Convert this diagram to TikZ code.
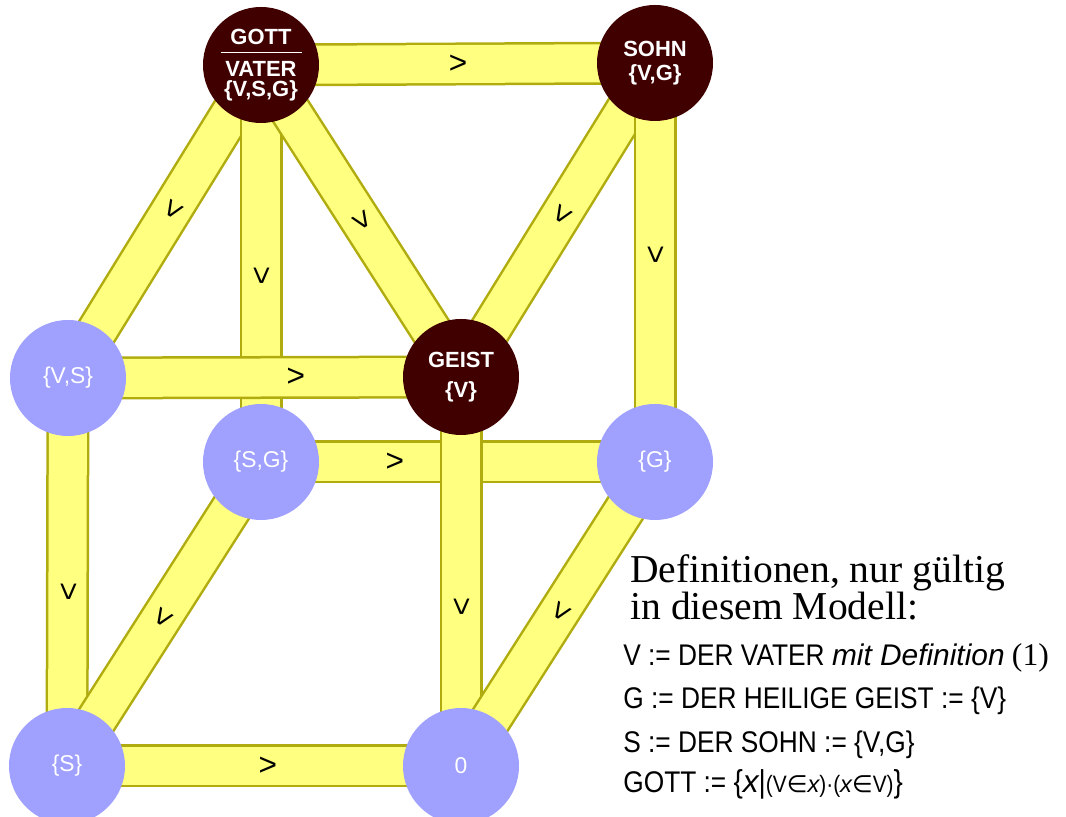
\documentclass[tikz,border=0pt]{standalone}
\usepackage{fontspec}
\setmainfont{Liberation Serif}
\newfontfamily\nodefont{Liberation Sans}
\newfontfamily\deffont[FakeStretch=0.88]{Liberation Sans}
\newfontfamily\defitfont{Liberation Sans Italic}
\newfontfamily\symbfont{DejaVu Sans}
\usetikzlibrary{positioning,backgrounds}

\definecolor{darkset}{RGB}{64,0,0}
\definecolor{lightset}{RGB}{160,160,255}
\definecolor{bandfill}{RGB}{255,255,128}
\definecolor{bandedge}{RGB}{176,172,16}

\begin{document}
\begin{tikzpicture}[
  dark/.style={circle,fill=darkset,minimum size=2.32cm,inner sep=0pt,text=white,
    font=\nodefont\bfseries\fontsize{12.5}{14}\selectfont,align=center},
  light/.style={circle,fill=lightset,minimum size=2.32cm,inner sep=0pt,text=white,
    font=\nodefont\fontsize{13}{14}\selectfont},
  band/.style={draw=bandedge,line width=0.05cm,double=bandfill,double distance=0.76cm},
  dir/.style={sloped,allow upside down,inner sep=0pt,font=\nodefont\fontsize{18}{18}\selectfont},
  defline/.style={anchor=base west,inner sep=0pt,font=\deffont\fontsize{17}{17}\selectfont},
  headline/.style={anchor=base west,inner sep=0pt,font=\fontsize{22.5}{22.5}\selectfont},
]
\useasboundingbox (0,0) rectangle (21.32,16.34);

% === sets (nodes) ===
\node[dark] (vater) at (5.22,15.04)
  {GOTT\\[-9pt]\rule{1.62cm}{0.9pt}\\[-1pt]VATER\\[-2.5pt]\{V,S,G\}};
\node[dark] (sohn) at (13.1,15.08) {SOHN\\\{V,G\}};
\node[dark] (geist) at (9.22,8.8) {GEIST\\[3pt]\{V\}};
\node[light] (vs) at (1.36,8.78) {\{V,S\}};
\node[light] (sg) at (5.22,7.1) {\{S,G\}};
\node[light] (g) at (13.1,7.1) {\{G\}};
\node[light] (s) at (1.34,1.02) {\{S\}};
\node[light] (null) at (9.22,1.02) {0};

% === bands ===
\begin{scope}[on background layer]
\draw[band] (vater.center) -- node[dir,pos=.5] {>} (sohn.center);
\draw[band] (vater.center) -- node[dir,pos=.46] {>} (vs.center);
\draw[band] (vater.center) -- node[dir,pos=.53] {>} (sg.center);
\draw[band] (vater.center) -- node[dir,pos=.5] {>} (geist.center);
\draw[band] (sohn.center) -- node[dir,pos=.48] {>} (geist.center);
\draw[band] (sohn.center) -- node[dir,pos=.48] {>} (g.center);
\draw[band] (vs.center) -- node[dir,pos=.58] {>} (geist.center);
\draw[band] (vs.center) -- node[dir,pos=.55] {>} (s.center);
\draw[band] (sg.center) -- node[dir,pos=.34] {>} (g.center);
\draw[band] (geist.center) -- node[dir,pos=.59] {>} (null.center);
\draw[band] (sg.center) -- node[dir,pos=.51] {>} (s.center);
\draw[band] (g.center) -- node[dir,pos=.49] {>} (null.center);
\draw[band] (s.center) -- node[dir,pos=.51] {>} (null.center);
\end{scope}

% === definitions ===
\node[headline] (head1) at (12.6,4.68) {Definitionen, nur gültig};
\node[headline] (head2) at (12.6,3.94) {in diesem Modell:};
\node[defline] (defv) at (12.46,3.03)
  {V := DER VATER {\defitfont mit Definition} {\rmfamily\fontsize{18}{18}\selectfont(1)}};
\node[defline] (defg) at (12.46,2.17) {G := DER HEILIGE GEIST := \{V\}};
\node[defline] (defs) at (12.46,1.29) {S := DER SOHN := \{V,G\}};
\node[defline] (defgott) at (12.46,0.48)
  {GOTT := {\fontsize{18}{18}\selectfont\{{\defitfont x}|}{\fontsize{13.5}{13.5}\selectfont(V{\symbfont∈}{\defitfont x})·({\defitfont x}{\symbfont∈}V)}{\fontsize{18}{18}\selectfont\}}};

\end{tikzpicture}
\end{document}
